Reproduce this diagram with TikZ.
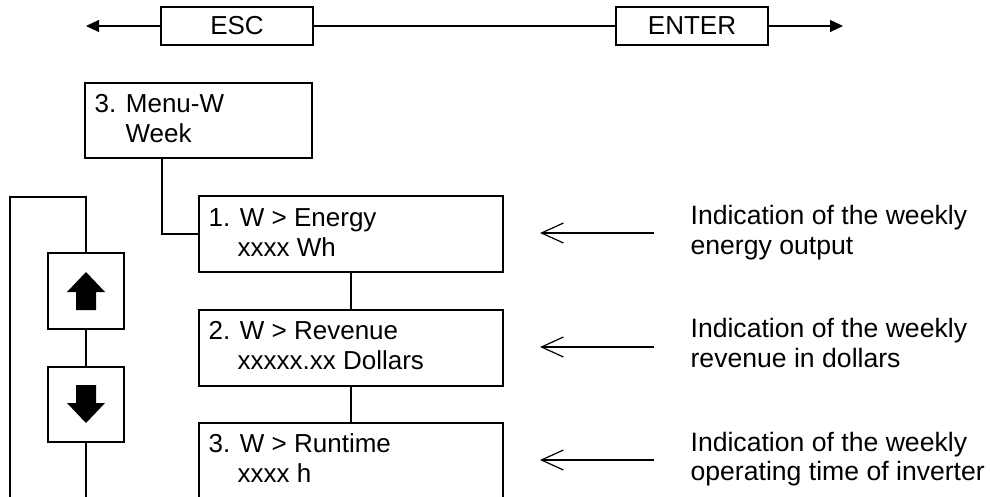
\documentclass[tikz,border=0pt]{standalone}
\usepackage{fontspec}
\setmainfont{Liberation Sans}
\usetikzlibrary{arrows.meta,calc}
\begin{document}
\begin{tikzpicture}[x=1pt,y=-1pt,line width=1.2pt,
  menubox/.style={draw,inner sep=0pt,minimum width=304pt,minimum height=76pt},
  keybox/.style={draw,inner sep=0pt,minimum width=152pt,minimum height=38pt,font=\fontsize{26}{30}\selectfont},
  btn/.style={draw,inner sep=0pt,minimum width=76pt,minimum height=76pt},
  txt/.style={anchor=base west,inner sep=0pt,font=\fontsize{26}{30}\selectfont},
  desc/.style={anchor=base west,inner sep=0pt,font=\fontsize{26.6}{30}\selectfont},
  bigtip/.style={-{Triangle[length=13pt,width=12pt]}},
  barb/.style={-{Straight Barb[length=22pt,width=20pt]}}]
\useasboundingbox (0,0) rectangle (990,497);
\clip (0,0) rectangle (990,497);
% top keys
\node[keybox] (esc) at (237,26) {ESC};
\node[keybox] (enter) at (692,26) {ENTER};
\coordinate (lt) at (86,26);
\coordinate (rt) at (843,26);
\draw[bigtip] (esc.west) -- (lt);
\draw (esc.east) -- (enter.west);
\draw[bigtip] (enter.east) -- (rt);
% menu box
\node[draw,inner sep=0pt,minimum width=227pt,minimum height=75pt] (menu) at (198.5,120.5) {};
\node[txt] (menu1) at (94,113) {3. Menu-W};
\node[txt] (menu2) at (125,143) {Week};
% entry boxes
\node[menubox] (b1) at (351,234) {};
\node[menubox] (b2) at (351,348) {};
\node[menubox] (b3) at (351,461) {};
\node[txt] (b1a) at (208,226) {1. W > Energy};
\node[txt] (b1b) at (237,256) {xxxx Wh};
\node[txt] (b2a) at (208,339) {2. W > Revenue};
\node[txt] (b2b) at (237,369) {xxxxx.xx Dollars};
\node[txt] (b3a) at (208,452) {3. W > Runtime};
\node[txt] (b3b) at (237,482) {xxxx h};
\draw ([xshift=-36.5pt]menu.south) |- (b1.west);
\draw (b1.south) -- (b2.north);
\draw (b2.south) -- (b3.north);
% up/down buttons and loop
\node[btn] (up) at (86,291) {};
\node[btn,minimum height=75pt] (down) at (86,404.5) {};
\fill[shift={(up.center)}] (0,-19) -- (19,1) -- (10,1) -- (10,19) -- (-10,19) -- (-10,1) -- (-19,1) -- cycle;
\fill[shift={(down.center)}] (0,18.5) -- (19,-1.5) -- (10,-1.5) -- (10,-19.5) -- (-10,-19.5) -- (-10,-1.5) -- (-19,-1.5) -- cycle;
\coordinate (lb) at (10,500);
\coordinate (lc) at (86,197);
\coordinate (db) at (86,500);
\draw (lb) |- (lc) -- (up.north);
\draw (up.south) -- (down.north);
\draw (down.south) -- (db);
% explanation arrows
\coordinate (p1) at (654,233); \coordinate (q1) at (540,233);
\coordinate (p2) at (654,347); \coordinate (q2) at (540,347);
\coordinate (p3) at (654,460); \coordinate (q3) at (540,460);
\draw[barb] (p1) -- (q1);
\draw[barb] (p2) -- (q2);
\draw[barb] (p3) -- (q3);
\node[desc] (d1a) at (690,225) {Indication of the weekly};
\node[desc] (d1b) at (690,254) {energy output};
\node[desc] (d2a) at (690,337) {Indication of the weekly};
\node[desc] (d2b) at (690,367) {revenue in dollars};
\node[desc] (d3a) at (690,451) {Indication of the weekly};
\node[desc] (d3b) at (690,480) {operating time of inverter};
\end{tikzpicture}
\end{document}
